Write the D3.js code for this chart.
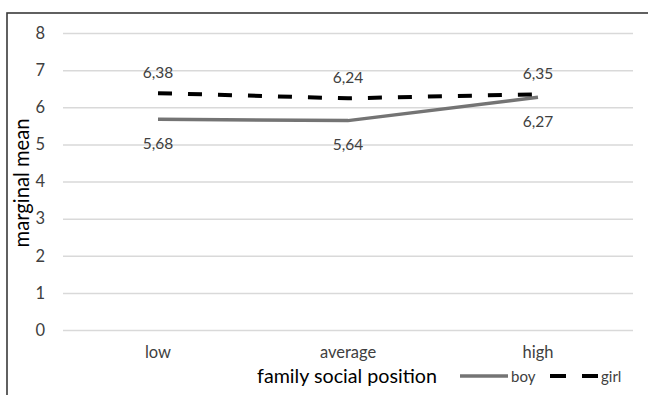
<!DOCTYPE html>
<html>
<head>
<meta charset="utf-8">
<script src="https://cdn.jsdelivr.net/npm/d3@7"></script>
<style>
  html, body { margin: 0; padding: 0; background: #fff; }
  svg { display: block; font-family: Lato, "Open Sans", sans-serif; }
</style>
</head>
<body>
<svg id="chart" width="648" height="395"></svg>
<script>
const categories = ["low", "average", "high"];
const boyValues = [5.68, 5.64, 6.27];
const girlValues = [6.38, 6.24, 6.35];
const boyLabels = ["5,68", "5,64", "6,27"];
const girlLabels = ["6,38", "6,24", "6,35"];
const yTicks = [0, 1, 2, 3, 4, 5, 6, 7, 8];
const seriesNames = ["boy", "girl"];

const svg = d3.select("#chart");

function fitWidth(sel, target) {
  const node = sel.node();
  const fs = parseFloat(sel.attr("font-size"));
  const w = node.getComputedTextLength();
  if (w > 0) sel.attr("font-size", (fs * target / w).toFixed(2));
}

// outer frame
svg.append("rect")
  .attr("x", 7).attr("y", 13)
  .attr("width", 700).attr("height", 500)
  .attr("fill", "none")
  .attr("stroke", "#3a3a3a")
  .attr("stroke-width", 1.6);

const x = d3.scaleBand().domain(categories).range([63, 633]);
const y = d3.scaleLinear().domain([0, 8]).range([330, 33]);
const cx = d => x(d) + x.bandwidth() / 2;

// gridlines + y tick labels
const yAxis = d3.axisLeft(y).tickValues(yTicks).tickSize(-570).tickFormat(d3.format("d"));
const gy = svg.append("g").attr("transform", "translate(63,0)").call(yAxis);
gy.select(".domain").remove();
gy.selectAll(".tick line").attr("stroke", "#d9d9d9").attr("stroke-width", 1.5);
gy.selectAll(".tick text").attr("fill", "#404040").attr("font-size", 16.5)
  .attr("font-family", "Lato, sans-serif").attr("x", -18);

// x axis labels
const xAxis = d3.axisBottom(x).tickSize(0).tickPadding(0);
const gx = svg.append("g").attr("transform", "translate(0,330)").call(xAxis);
gx.select(".domain").remove();
gx.selectAll(".tick text").attr("fill", "#404040").attr("font-size", 16.5)
  .attr("font-family", "Lato, sans-serif").attr("dy", 0).attr("y", 28);

// lines
const line = d3.line().x((d, i) => cx(categories[i])).y(d => y(d));
svg.append("path").datum(boyValues)
  .attr("d", line).attr("fill", "none")
  .attr("stroke", "#747474").attr("stroke-width", 3.5);
svg.append("path").datum(girlValues)
  .attr("d", line).attr("fill", "none")
  .attr("stroke", "#000").attr("stroke-width", 4)
  .attr("stroke-dasharray", "14,16");

// data labels
svg.append("g").selectAll("text").data(girlValues).join("text")
  .attr("x", (d, i) => cx(categories[i]))
  .attr("y", d => y(d) - 21)
  .attr("dy", "0.35em")
  .attr("text-anchor", "middle")
  .attr("font-size", 15.5).attr("fill", "#404040")
  .text((d, i) => girlLabels[i]);
svg.append("g").selectAll("text").data(boyValues).join("text")
  .attr("x", (d, i) => cx(categories[i]))
  .attr("y", d => y(d) + 24)
  .attr("dy", "0.35em")
  .attr("text-anchor", "middle")
  .attr("font-size", 15.5).attr("fill", "#404040")
  .text((d, i) => boyLabels[i]);

// axis titles
const yTitle = svg.append("text")
  .attr("transform", "translate(29,183) rotate(-90)")
  .attr("text-anchor", "middle")
  .attr("font-size", 20).attr("fill", "#000")
  .text("marginal mean");
fitWidth(yTitle, 129);
const xTitle = svg.append("text")
  .attr("x", 347).attr("y", 383)
  .attr("text-anchor", "middle")
  .attr("font-size", 20).attr("fill", "#000")
  .text("family social position");
fitWidth(xTitle, 180);

// legend
const legend = svg.append("g");
const legendItems = [
  {name: seriesNames[0], x1: 460, x2: 508, stroke: "#747474", w: 3.5, dash: null},
  {name: seriesNames[1], x1: 550, x2: 598, stroke: "#000", w: 4, dash: "16,16"}
];
legendItems.forEach(it => {
  legend.append("line")
    .attr("x1", it.x1).attr("x2", it.x2).attr("y1", 376).attr("y2", 376)
    .attr("stroke", it.stroke).attr("stroke-width", it.w)
    .attr("stroke-dasharray", it.dash);
  legend.append("text")
    .attr("x", it.x2 + 3).attr("y", 382)
    .attr("font-size", 15).attr("fill", "#404040")
    .text(it.name);
});
</script>
</body>
</html>
